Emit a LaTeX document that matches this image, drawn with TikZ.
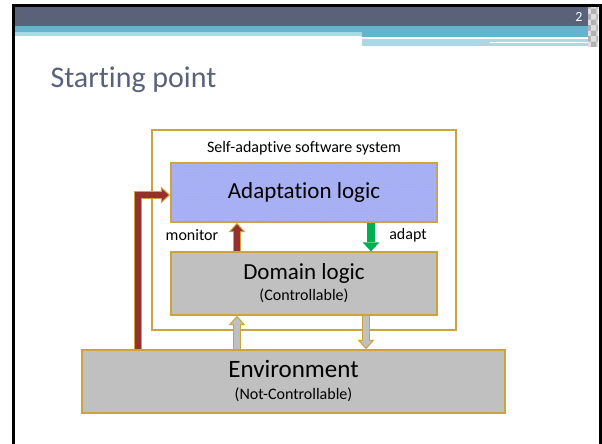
\documentclass[tikz,border=0pt]{standalone}
\usepackage{fontspec}
\setmainfont{Carlito}[Ligatures=NoCommon]
\usetikzlibrary{arrows.meta,patterns}

\definecolor{hdrdark}{RGB}{90,98,121}
\definecolor{hdrteal}{RGB}{98,181,204}
\definecolor{hdrlight}{RGB}{170,217,230}
\definecolor{boxgold}{RGB}{204,163,61}
\definecolor{boxgrey}{RGB}{192,192,192}
\definecolor{adafill}{RGB}{168,178,242}
\definecolor{monred}{RGB}{150,48,46}
\definecolor{adaptgreen}{RGB}{0,176,80}

\tikzset{
  logicbox/.style={draw=boxgold, line width=1.4pt, align=center, inner sep=0pt},
  lbl/.style={font=\fontsize{16}{18}\selectfont},
  arrowedge/.style={draw=boxgold, line width=8pt, -{Triangle[length=9.5pt,width=17pt,line width=0pt]}},
  arrowcore/.style={draw=#1, line width=5.6pt, shorten >=1.8pt, -{Triangle[length=6.5pt,width=11.6pt,line width=0pt]}}
}

\begin{document}
\begin{tikzpicture}[x=1pt,y=-1pt]
  \useasboundingbox (0,0) rectangle (602,444);

  % slide header
  \fill[hdrdark] (15,7) rectangle (598,26);
  \fill[hdrteal] (15,26) rectangle (598,32);
  \fill[hdrlight] (15,32) rectangle (362,36);
  \fill[hdrteal] (362,32) rectangle (598,37);
  \fill[hdrlight] (362,39) rectangle (598,46);
  \fill[white] (490,42.5) rectangle (598,43.5);
  \fill[gray!25] (588,7) rectangle (598,47);
  \fill[pattern=checkerboard, pattern color=gray!60] (588,7) rectangle (598,47);
  \draw[line width=3pt] (13.5,5.5) rectangle (600.5,460);
  \node[text=white, font=\fontsize{14}{14}\selectfont] (pgnum) at (579,17) {2};

  \node[anchor=base west, text=hdrdark, font=\fontsize{30}{32}\selectfont] (title) at (47,88) {Starting point};

  % boxes
  \node (sys) at (304,230) [draw=boxgold, line width=1.2pt, minimum width=304pt, minimum height=200pt] {};
  \node (syslbl) at (304,148) [lbl] {Self-adaptive software system};
  \node (ada) at (304,192.5) [logicbox, fill=adafill, postaction={pattern=crosshatch dots, pattern color=blue!35}, minimum width=266pt, minimum height=59pt, font=\fontsize{23}{24}\selectfont] {Adaptation logic};
  \node (dom) at (304,283.5) [logicbox, fill=boxgrey, minimum width=266pt, minimum height=63pt, font=\fontsize{23}{24}\selectfont] {Domain logic\\[-3pt]\fontsize{16}{18}\selectfont(Controllable)};
  \node (env) at (293.5,381.5) [logicbox, fill=boxgrey, minimum width=423pt, minimum height=63pt, font=\fontsize{25}{26}\selectfont] {Environment\\[-4pt]\fontsize{16}{18}\selectfont(Not-Controllable)};

  \node (monlbl) at (192,235) [lbl] {monitor};
  \node (adaptlbl) at (408,235) [lbl] {adapt};

  % monitor: domain -> adaptation
  \draw[arrowedge] ([xshift=-67pt]dom.north) -- ([xshift=-67pt]ada.south);
  \draw[arrowcore=monred] ([xshift=-67pt]dom.north) -- ([xshift=-67pt]ada.south);
  % adapt: adaptation -> domain
  \draw[adaptgreen, line width=7.5pt, -{Triangle[length=9pt,width=17pt,line width=0pt]}] ([xshift=67pt]ada.south) -- ([xshift=67pt]dom.north);
  % environment <-> domain
  \draw[arrowedge] ([xshift=-56.5pt]env.north) -- ([xshift=-67pt]dom.south);
  \draw[arrowcore=boxgrey] ([xshift=-56.5pt]env.north) -- ([xshift=-67pt]dom.south);
  \draw[arrowedge] ([xshift=62pt]dom.south) -- ([xshift=72.5pt]env.north);
  \draw[arrowcore=boxgrey] ([xshift=62pt]dom.south) -- ([xshift=72.5pt]env.north);
  % environment -> adaptation
  \draw[arrowedge] ([xshift=-155.5pt]env.north) |- ([yshift=-2.5pt]ada.west);
  \draw[arrowcore=monred] ([xshift=-155.5pt]env.north) |- ([yshift=-2.5pt]ada.west);
\end{tikzpicture}
\end{document}
